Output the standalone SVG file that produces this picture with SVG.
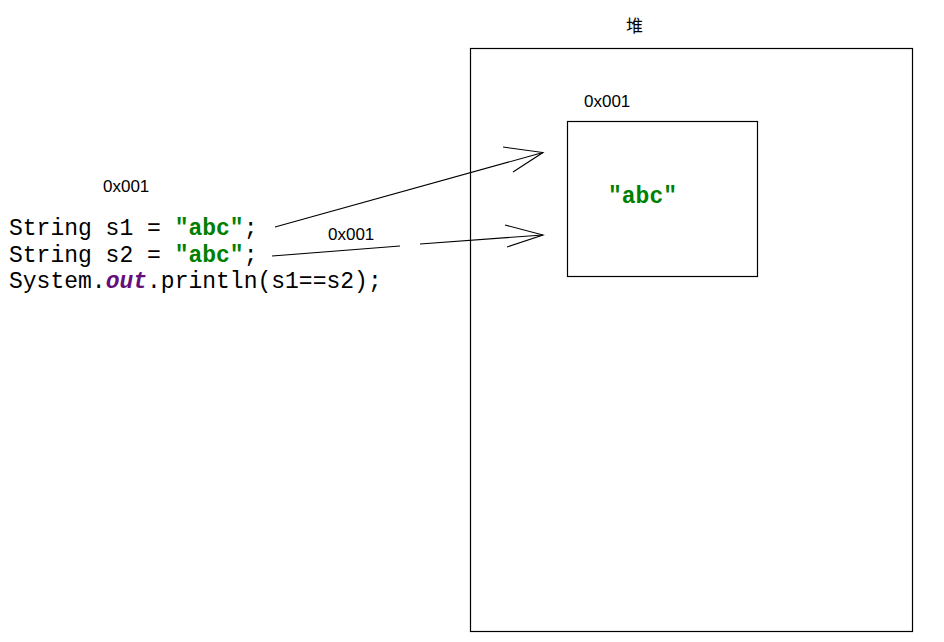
<svg xmlns="http://www.w3.org/2000/svg" width="944" height="642" viewBox="0 0 944 642">
<style>
.box{fill:none;stroke:#000;stroke-width:1.2}
.ln{fill:none;stroke:#000;stroke-width:1.1}
.code{font-family:"Liberation Mono","Courier New",monospace;font-size:23px;fill:#000}
.str{fill:#008000;font-weight:bold}
.kw{fill:#660E7A;font-weight:bold;font-style:italic}
.lbl{font-family:"Liberation Sans","Noto Sans CJK SC",sans-serif;font-size:17px;fill:#000}
</style>
<rect width="944" height="642" fill="#fff"/>
<g id="heap">
<rect class="box" x="470.5" y="48.5" width="442" height="583"/>
<text class="lbl" x="626" y="32">堆</text>
</g>
<g id="object">
<rect class="box" x="567.5" y="121.5" width="190" height="155"/>
<text class="lbl" x="584" y="107">0x001</text>
<text class="code str" x="608" y="203">"abc"</text>
</g>
<g id="code">
<text class="lbl" x="103" y="192">0x001</text>
<text class="code" x="9" y="235">String s1 = <tspan class="str">"abc"</tspan>;</text>
<text class="code" x="9" y="262">String s2 = <tspan class="str">"abc"</tspan>;</text>
<text class="code" x="9" y="288">System.<tspan class="kw">out</tspan>.println(s1==s2);</text>
</g>
<g id="connectors">
<polyline class="ln" points="275,227 543,152.5"/>
<polyline class="ln" points="503,147 543,152.5 513,172"/>
<polyline class="ln" points="272,256 400,246"/>
<polyline class="ln" points="420,244 543,235"/>
<polyline class="ln" points="505,225 543,235 507,247"/>
<text class="lbl" x="328" y="240">0x001</text>
</g>
</svg>
